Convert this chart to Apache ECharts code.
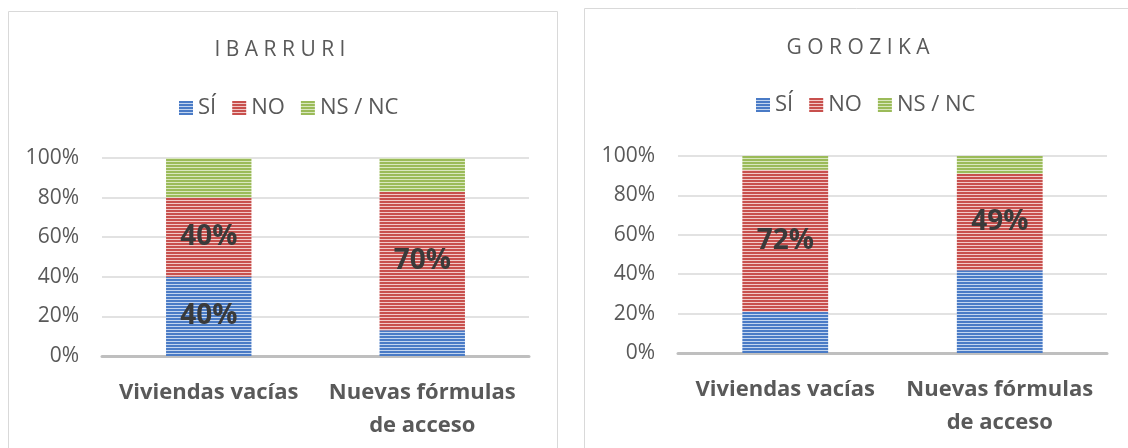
<!DOCTYPE html>
<html>
<head>
<meta charset="utf-8">
<script src="https://cdn.jsdelivr.net/npm/echarts@6/dist/echarts.min.js"></script>
<style>
  html, body { margin: 0; padding: 0; background: #fff; }
  #chart { width: 1128px; height: 448px; }
</style>
</head>
<body>
<div id="chart"></div>
<script>
// data (percent of answers)
var categories = ["Viviendas vacías", "Nuevas fórmulas\nde acceso"];
var seriesNames = ["SÍ", "NO", "NS / NC"];
var ibarruriSi = [40, 13];
var ibarruriNo = [40, 70];
var ibarruriNs = [20, 17];
var gorozikaSi = [21, 42];
var gorozikaNo = [72, 49];
var gorozikaNs = [7, 9];
// which segments carry a label in the original
var ibarruriSiLabel = [true, false];
var ibarruriNoLabel = [true, true];
var gorozikaNoLabel = [true, true];
var yTicks = [0, 20, 40, 60, 80, 100];

var chart = echarts.init(document.getElementById("chart"));

// horizontal stripe fill like the office chart
function stripes(dark, light) {
  var c = document.createElement("canvas");
  c.width = 4;
  c.height = 3;
  var ctx = c.getContext("2d");
  ctx.fillStyle = dark;
  ctx.fillRect(0, 0, 4, 2);
  ctx.fillStyle = light;
  ctx.fillRect(0, 2, 4, 1);
  return { image: c, repeat: "repeat" };
}
var fills = [
  stripes("#4a7bc6", "#c3d5ef"),
  stripes("#c8504d", "#f1c9c8"),
  stripes("#9bbb59", "#d9e7bf")
];

var FONT = "'Open Sans', 'Noto Sans', sans-serif";
var GREY = "#595959";

function withLabels(values, flags) {
  return values.map(function (v, i) {
    return { value: v, label: { show: !!(flags && flags[i]) } };
  });
}

function bars(gi, lists, flags) {
  return lists.map(function (vals, k) {
    return {
      name: seriesNames[k],
      type: "bar",
      stack: "s" + gi,
      xAxisIndex: gi,
      yAxisIndex: gi,
      barWidth: "40%",
      itemStyle: { color: fills[k] },
      label: {
        position: "inside",
        formatter: "{c}%",
        color: "#3a3a3a",
        fontFamily: FONT,
        fontWeight: "bold",
        fontSize: 28
      },
      data: withLabels(vals, flags[k])
    };
  });
}

function xAxis(gi) {
  return {
    type: "category",
    gridIndex: gi,
    data: categories,
    axisTick: { show: false },
    axisLine: { lineStyle: { color: "#bfbfbf", width: 3 } },
    axisLabel: {
      color: GREY,
      fontFamily: FONT,
      fontWeight: "bold",
      fontSize: 22,
      lineHeight: 33,
      margin: 20,
      interval: 0
    }
  };
}

function yAxis(gi) {
  return {
    type: "value",
    gridIndex: gi,
    min: yTicks[0],
    max: yTicks[yTicks.length - 1],
    interval: 20,
    axisLine: { show: false },
    axisTick: { show: false },
    splitLine: { lineStyle: { color: "#d9d9d9", width: 1.5 } },
    axisLabel: {
      formatter: "{value}%",
      color: GREY,
      fontFamily: FONT,
      fontSize: 21,
      margin: 23
    }
  };
}

function legend(x, top) {
  return {
    data: seriesNames,
    left: x,
    top: top,
    itemWidth: 14,
    itemHeight: 14,
    itemGap: 16,
    icon: "rect",
    textStyle: { color: GREY, fontFamily: FONT, fontSize: 22 }
  };
}

var option = {
  animation: false,
  graphic: [
    { type: "rect", shape: { x: 8.5, y: 11.5, width: 549, height: 460 },
      style: { fill: "none", stroke: "#d9d9d9", lineWidth: 1 } },
    { type: "rect", shape: { x: 584.5, y: 8.5, width: 560, height: 460 },
      style: { fill: "none", stroke: "#d9d9d9", lineWidth: 1 } }
  ],
  title: [
    { text: "I B A R R U R I", left: 275, top: 35, textAlign: "center",
      textStyle: { color: GREY, fontFamily: FONT, fontWeight: "normal", fontSize: 21 } },
    { text: "G O R O Z I K A", left: 853, top: 33, textAlign: "center",
      textStyle: { color: GREY, fontFamily: FONT, fontWeight: "normal", fontSize: 21 } }
  ],
  legend: [legend(174, 92), legend(751, 89)],
  grid: [
    { left: 102, right: 599, top: 158, bottom: 92 },
    { left: 678, right: 21, top: 156, bottom: 95 }
  ],
  xAxis: [xAxis(0), xAxis(1)],
  yAxis: [yAxis(0), yAxis(1)],
  series: bars(0, [ibarruriSi, ibarruriNo, ibarruriNs], [ibarruriSiLabel, ibarruriNoLabel, null])
    .concat(bars(1, [gorozikaSi, gorozikaNo, gorozikaNs], [null, gorozikaNoLabel, null]))
};

chart.setOption(option);
</script>
</body>
</html>
